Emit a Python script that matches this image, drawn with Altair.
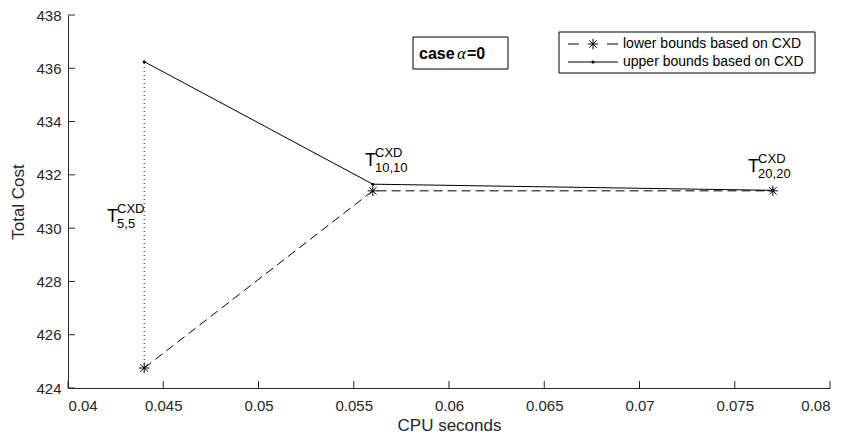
import altair as alt
import pandas as pd

# ---- data ----
cpu_seconds = [0.044, 0.056, 0.077]
lower_bounds = [424.75, 431.40, 431.40]
upper_bounds = [436.25, 431.65, 431.42]

x_ticks = [0.04, 0.045, 0.05, 0.055, 0.06, 0.065, 0.07, 0.075, 0.08]
y_ticks = [424, 426, 428, 430, 432, 434, 436, 438]

label_x = [0.04205, 0.05559, 0.07570]
label_y = [430.23, 432.33, 432.11]
label_sub = ["5,5", "10,10", "20,20"]
label_main = "T"
label_sup = "CXD"

legend_labels = ["lower bounds based on CXD", "upper bounds based on CXD"]
case_parts = ["case", "α", "=0"]

FONT = "Liberation Sans"
INK = "#262626"
W, H = 762, 373

lines_df = pd.DataFrame({"cpu": cpu_seconds, "lower": lower_bounds, "upper": upper_bounds})
vert_df = pd.DataFrame({"cpu": [cpu_seconds[0]], "lo": [lower_bounds[0]], "hi": [upper_bounds[0]]})
lab_df = pd.DataFrame({"x": label_x, "y": label_y, "sub": label_sub,
                       "main": [label_main] * 3, "sup": [label_sup] * 3})
xt_df = pd.DataFrame({"t": x_ticks})
yt_df = pd.DataFrame({"t": y_ticks})
one = pd.DataFrame({"k": [0]})

xscale = alt.Scale(domain=[0.04, 0.08], nice=False, zero=False)
yscale = alt.Scale(domain=[424, 438], nice=False, zero=False)

xaxis = alt.Axis(values=x_ticks, format="~g", title="CPU seconds", labelPadding=10,
                 titlePadding=4)
yaxis = alt.Axis(values=y_ticks, format="d", title="Total Cost", labelPadding=7,
                 titlePadding=8)

ASTER = "M-1,0L1,0M0,-1L0,1M-0.7071,-0.7071L0.7071,0.7071M-0.7071,0.7071L0.7071,-0.7071"

base = alt.Chart(lines_df)

vert = alt.Chart(vert_df).mark_rule(color="black", strokeWidth=1, strokeDash=[1, 3]).encode(
    x=alt.X("cpu:Q", scale=xscale, axis=xaxis),
    y=alt.Y("lo:Q", scale=yscale, axis=yaxis),
    y2="hi:Q",
)

lower_line = base.mark_line(color="black", strokeWidth=1, strokeDash=[9, 5]).encode(
    x=alt.X("cpu:Q", scale=xscale), y=alt.Y("lower:Q", scale=yscale))
upper_line = base.mark_line(color="black", strokeWidth=1).encode(
    x=alt.X("cpu:Q", scale=xscale), y=alt.Y("upper:Q", scale=yscale))
lower_pts = base.mark_point(shape=ASTER, size=110, filled=False, stroke="black",
                            strokeWidth=1, opacity=1).encode(
    x=alt.X("cpu:Q", scale=xscale), y=alt.Y("lower:Q", scale=yscale))
upper_pts = base.mark_circle(size=9, color="black", opacity=1).encode(
    x=alt.X("cpu:Q", scale=xscale), y=alt.Y("upper:Q", scale=yscale))

xticks = alt.Chart(xt_df).mark_rule(color=INK, strokeWidth=1).encode(
    x=alt.X("t:Q", scale=xscale), y=alt.value(H), y2=alt.value(H - 7))
yticks = alt.Chart(yt_df).mark_rule(color=INK, strokeWidth=1).encode(
    y=alt.Y("t:Q", scale=yscale), x=alt.value(0), x2=alt.value(7))

lab_main = alt.Chart(lab_df).mark_text(font=FONT, fontSize=18, align="left",
                                        baseline="alphabetic", color="black").encode(
    x=alt.X("x:Q", scale=xscale), y=alt.Y("y:Q", scale=yscale), text="main:N")
lab_sup = alt.Chart(lab_df).mark_text(font=FONT, fontSize=13, align="left",
                                       baseline="alphabetic", color="black", dx=10, dy=-9).encode(
    x=alt.X("x:Q", scale=xscale), y=alt.Y("y:Q", scale=yscale), text="sup:N")
lab_sub = alt.Chart(lab_df).mark_text(font=FONT, fontSize=13, align="left",
                                       baseline="alphabetic", color="black", dx=10, dy=6).encode(
    x=alt.X("x:Q", scale=xscale), y=alt.Y("y:Q", scale=yscale), text="sub:N")

# legend
leg_box = alt.Chart(one).mark_rect(fill="white", stroke="black", strokeWidth=1).encode(
    x=alt.value(491), x2=alt.value(747), y=alt.value(17), y2=alt.value(58))
leg_d1 = alt.Chart(one).mark_rule(color="black", strokeWidth=1).encode(
    x=alt.value(500), x2=alt.value(511), y=alt.value(29))
leg_d2 = alt.Chart(one).mark_rule(color="black", strokeWidth=1).encode(
    x=alt.value(539), x2=alt.value(550), y=alt.value(29))
leg_star = alt.Chart(one).mark_point(shape=ASTER, size=110, filled=False, stroke="black",
                                     strokeWidth=1, opacity=1).encode(
    x=alt.value(525), y=alt.value(29))
leg_solid = alt.Chart(one).mark_rule(color="black", strokeWidth=1).encode(
    x=alt.value(500), x2=alt.value(550), y=alt.value(47))
leg_dot = alt.Chart(one).mark_circle(size=9, color="black", opacity=1).encode(
    x=alt.value(525), y=alt.value(47))
leg_t1 = alt.Chart(one).mark_text(font=FONT, fontSize=14, align="left", baseline="middle",
                                  color="black").encode(
    x=alt.value(555), y=alt.value(29), text=alt.value(legend_labels[0]))
leg_t2 = alt.Chart(one).mark_text(font=FONT, fontSize=14, align="left", baseline="middle",
                                  color="black").encode(
    x=alt.value(555), y=alt.value(47), text=alt.value(legend_labels[1]))

# case box
case_box = alt.Chart(one).mark_rect(fill="white", stroke="black", strokeWidth=1).encode(
    x=alt.value(345), x2=alt.value(440), y=alt.value(22), y2=alt.value(54))
case_t1 = alt.Chart(one).mark_text(font=FONT, fontSize=16, fontWeight="bold", align="left",
                                   baseline="alphabetic", color="black").encode(
    x=alt.value(351), y=alt.value(44), text=alt.value(case_parts[0]))
case_t2 = alt.Chart(one).mark_text(font="Liberation Serif", fontSize=17, fontStyle="italic",
                                   align="left", baseline="alphabetic", color="black").encode(
    x=alt.value(389), y=alt.value(44), text=alt.value(case_parts[1]))
case_t3 = alt.Chart(one).mark_text(font=FONT, fontSize=16, fontWeight="bold", align="left",
                                   baseline="alphabetic", color="black").encode(
    x=alt.value(399), y=alt.value(44), text=alt.value(case_parts[2]))

chart = alt.layer(
    vert, lower_line, upper_line, lower_pts, upper_pts, xticks, yticks,
    lab_main, lab_sup, lab_sub,
    leg_box, leg_d1, leg_d2, leg_star, leg_solid, leg_dot, leg_t1, leg_t2,
    case_box, case_t1, case_t2, case_t3,
).properties(
    width=W, height=H,
    autosize=alt.AutoSizeParams(type="none"),
    padding={"left": 60, "top": 7, "right": 7, "bottom": 46},
    background="white",
).configure_view(stroke=None).configure_axis(
    grid=False, ticks=False, domainColor=INK, domainWidth=1,
    labelColor=INK, titleColor=INK, labelFont=FONT, titleFont=FONT,
    labelFontSize=15, titleFontSize=17, titleFontWeight="normal",
)

chart.save("out.html", embed_options={"renderer": "svg", "actions": False})
